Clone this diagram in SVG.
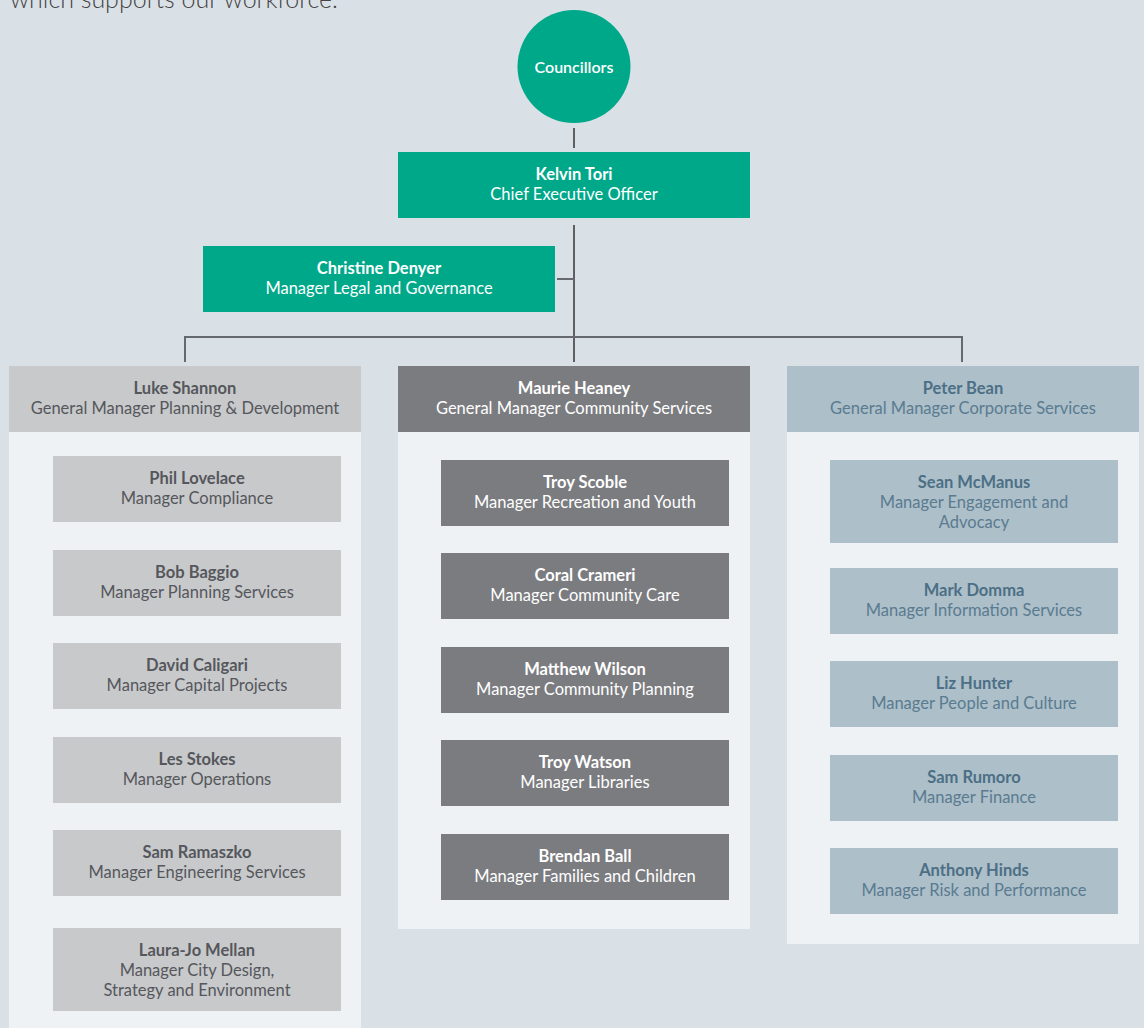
<svg xmlns="http://www.w3.org/2000/svg" width="1144" height="1028" viewBox="0 0 1144 1028">
<style>
text{font-family:Lato,"Open Sans","Liberation Sans",sans-serif;font-size:16.5px;text-anchor:middle}
.n{font-weight:700}
.g{fill:#00a88a}
.dg{fill:#7b7c80}
.lg{fill:#c8c9cb}
.bl{fill:#adbfc9}
.panel{fill:#eef2f5}
.w{fill:#ffffff}
.t1{fill:#55575c}
.t3{fill:#4c6f86}
.r3{fill:#5a7b90}
.ln{stroke:#333;stroke-width:1.5;fill:none}
.ln2{stroke:#666a6e;stroke-width:2;fill:none}
</style>
<rect width="1144" height="1028" fill="#dae1e6"/>
<text x="10" y="8" style="text-anchor:start;font-size:25px;font-weight:300;fill:#444">which supports our workforce.</text>

<g id="connectors">
<line class="ln" x1="574" y1="128" x2="574" y2="148"/>
<line class="ln" x1="574" y1="225" x2="574" y2="362"/>
<line class="ln2" x1="557" y1="279" x2="574" y2="279"/>
<polyline class="ln2" points="185,362 185,337 962,337 962,362"/>
<polyline class="ln" points="32.5,432 32.5,969.5 46,969.5"/>
<line class="ln2" x1="32.5" y1="489" x2="46" y2="489"/>
<line class="ln2" x1="32.5" y1="583" x2="46" y2="583"/>
<line class="ln2" x1="32.5" y1="676" x2="46" y2="676"/>
<line class="ln2" x1="32.5" y1="770" x2="46" y2="770"/>
<line class="ln2" x1="32.5" y1="863" x2="46" y2="863"/>
<polyline class="ln" points="421.5,432 421.5,866 435,866"/>
<line class="ln2" x1="421.5" y1="493" x2="435" y2="493"/>
<line class="ln2" x1="421.5" y1="586" x2="435" y2="586"/>
<line class="ln2" x1="421.5" y1="680" x2="435" y2="680"/>
<line class="ln2" x1="421.5" y1="773" x2="435" y2="773"/>
<polyline class="ln" points="810.5,432 810.5,881 824,881"/>
<line class="ln2" x1="810.5" y1="500" x2="824" y2="500"/>
<line class="ln2" x1="810.5" y1="601" x2="824" y2="601"/>
<line class="ln2" x1="810.5" y1="694" x2="824" y2="694"/>
<line class="ln2" x1="810.5" y1="788" x2="824" y2="788"/>
</g>

<g id="councillors">
<circle class="g" cx="574" cy="66.5" r="56.5"/>
<text class="w" x="574" y="73" style="font-size:16px;font-weight:600">Councillors</text>
</g>
<g id="ceo">
<rect class="g" x="398" y="152" width="352" height="66"/>
<text class="w n" x="574" y="180">Kelvin Tori</text>
<text class="w" x="574" y="200">Chief Executive Officer</text>
</g>
<g id="legal">
<rect class="g" x="203" y="246" width="352" height="66"/>
<text class="w n" x="379" y="274">Christine Denyer</text>
<text class="w" x="379" y="294">Manager Legal and Governance</text>
</g>

<g id="col-planning">
<rect class="panel" x="9" y="366" width="352" height="670"/>
<rect class="lg" x="9" y="366" width="352" height="66"/>
<text class="t1 n" x="185" y="394">Luke Shannon</text>
<text class="t1" x="185" y="414">General Manager Planning &amp; Development</text>
</g>
<g id="compliance"><rect class="lg" x="53" y="456" width="288" height="66"/><text class="t1 n" x="197" y="484">Phil Lovelace</text><text class="t1" x="197" y="504">Manager Compliance</text></g>
<g id="planning-services"><rect class="lg" x="53" y="550" width="288" height="66"/><text class="t1 n" x="197" y="578">Bob Baggio</text><text class="t1" x="197" y="598">Manager Planning Services</text></g>
<g id="capital-projects"><rect class="lg" x="53" y="643" width="288" height="66"/><text class="t1 n" x="197" y="671">David Caligari</text><text class="t1" x="197" y="691">Manager Capital Projects</text></g>
<g id="operations"><rect class="lg" x="53" y="737" width="288" height="66"/><text class="t1 n" x="197" y="765">Les Stokes</text><text class="t1" x="197" y="785">Manager Operations</text></g>
<g id="engineering"><rect class="lg" x="53" y="830" width="288" height="66"/><text class="t1 n" x="197" y="858">Sam Ramaszko</text><text class="t1" x="197" y="878">Manager Engineering Services</text></g>
<g id="city-design"><rect class="lg" x="53" y="928" width="288" height="83"/><text class="t1 n" x="197" y="956">Laura-Jo Mellan</text><text class="t1" x="197" y="976">Manager City Design,</text><text class="t1" x="197" y="996">Strategy and Environment</text></g>

<g id="col-community">
<rect class="panel" x="398" y="366" width="352" height="563"/>
<rect class="dg" x="398" y="366" width="352" height="66"/>
<text class="w n" x="574" y="394">Maurie Heaney</text>
<text class="w" x="574" y="414">General Manager Community Services</text>
</g>
<g id="recreation"><rect class="dg" x="441" y="460" width="288" height="66"/><text class="w n" x="585" y="488">Troy Scoble</text><text class="w" x="585" y="508">Manager Recreation and Youth</text></g>
<g id="community-care"><rect class="dg" x="441" y="553" width="288" height="66"/><text class="w n" x="585" y="581">Coral Crameri</text><text class="w" x="585" y="601">Manager Community Care</text></g>
<g id="community-planning"><rect class="dg" x="441" y="647" width="288" height="66"/><text class="w n" x="585" y="675">Matthew Wilson</text><text class="w" x="585" y="695">Manager Community Planning</text></g>
<g id="libraries"><rect class="dg" x="441" y="740" width="288" height="66"/><text class="w n" x="585" y="768">Troy Watson</text><text class="w" x="585" y="788">Manager Libraries</text></g>
<g id="families"><rect class="dg" x="441" y="834" width="288" height="66"/><text class="w n" x="585" y="862">Brendan Ball</text><text class="w" x="585" y="882">Manager Families and Children</text></g>

<g id="col-corporate">
<rect class="panel" x="787" y="366" width="352" height="578"/>
<rect class="bl" x="787" y="366" width="352" height="66"/>
<text class="t3 n" x="963" y="394">Peter Bean</text>
<text class="r3" x="963" y="414">General Manager Corporate Services</text>
</g>
<g id="engagement"><rect class="bl" x="830" y="460" width="288" height="83"/><text class="t3 n" x="974" y="488">Sean McManus</text><text class="r3" x="974" y="508">Manager Engagement and</text><text class="r3" x="974" y="528">Advocacy</text></g>
<g id="information"><rect class="bl" x="830" y="568" width="288" height="66"/><text class="t3 n" x="974" y="596">Mark Domma</text><text class="r3" x="974" y="616">Manager Information Services</text></g>
<g id="people"><rect class="bl" x="830" y="661" width="288" height="66"/><text class="t3 n" x="974" y="689">Liz Hunter</text><text class="r3" x="974" y="709">Manager People and Culture</text></g>
<g id="finance"><rect class="bl" x="830" y="755" width="288" height="66"/><text class="t3 n" x="974" y="783">Sam Rumoro</text><text class="r3" x="974" y="803">Manager Finance</text></g>
<g id="risk"><rect class="bl" x="830" y="848" width="288" height="66"/><text class="t3 n" x="974" y="876">Anthony Hinds</text><text class="r3" x="974" y="896">Manager Risk and Performance</text></g>
</svg>
